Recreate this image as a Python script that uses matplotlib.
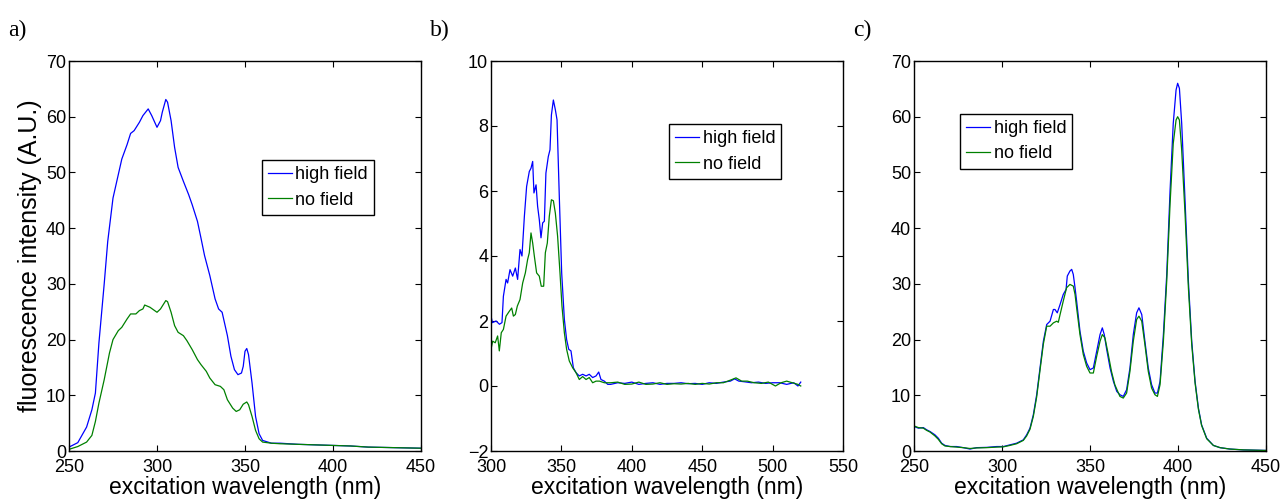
import matplotlib
matplotlib.use("Agg")
import matplotlib.pyplot as plt

plt.rcParams['font.family'] = ['Liberation Sans', 'DejaVu Sans']

# ---- panel a ----
a_high_x = [250, 255, 260, 263, 265, 267, 270, 272, 275, 278, 280, 283, 285, 287, 290, 292, 295, 297,
            300, 302, 303, 305, 306, 308, 310, 312, 315, 318, 320, 323, 325, 327, 330, 333, 335, 337,
            340, 342, 344, 346, 348, 349, 350, 351, 352, 354, 356, 358, 360, 365, 370, 380, 390, 400,
            410, 420, 435, 450]
a_high_y = [0.7, 1.5, 4.3, 7.4, 10.4, 19.4, 30.0, 37.6, 45.4, 49.6, 52.4, 55.0, 57.0, 57.5, 59.0, 60.2,
            61.4, 60.2, 58.1, 59.3, 60.8, 63.1, 62.6, 59.3, 54.5, 50.9, 48.4, 46.0, 44.2, 41.2, 38.2,
            35.1, 31.5, 27.3, 25.5, 24.9, 20.7, 17.0, 14.6, 13.7, 14.0, 15.2, 17.9, 18.4, 17.3, 12.2,
            6.2, 3.1, 1.9, 1.4, 1.4, 1.2, 1.1, 1.0, 0.9, 0.7, 0.6, 0.5]
a_none_x = [250, 255, 260, 263, 265, 267, 270, 273, 275, 278, 280, 283, 285, 288, 290, 292, 293, 296,
            300, 302, 305, 306, 308, 310, 312, 315, 317, 320, 323, 325, 328, 330, 333, 336, 338, 340,
            343, 345, 347, 349, 351, 352, 354, 356, 358, 360, 365, 370, 380, 390, 400, 410, 420, 435, 450]
a_none_y = [0.3, 0.8, 1.6, 2.8, 5.3, 8.6, 12.8, 17.6, 20.0, 21.6, 22.2, 23.7, 24.6, 24.6, 25.2, 25.5,
            26.2, 25.8, 24.9, 25.5, 27.0, 26.8, 24.9, 22.5, 21.3, 20.7, 19.8, 18.2, 16.4, 15.5, 14.3,
            13.1, 11.9, 11.6, 11.0, 9.2, 7.7, 7.1, 7.4, 8.4, 8.8, 8.3, 6.2, 3.7, 2.2, 1.6, 1.4, 1.3,
            1.2, 1.1, 1.0, 0.9, 0.7, 0.6, 0.5]

# ---- panel b ----
b_high_x = [300, 301, 303.6, 306, 307.8, 308.8, 310.7, 311.8, 313.5, 315.4, 317.3, 318.9, 320.6, 322,
            323.7, 325.3, 327.2, 328.4, 329.6, 330.5, 332, 333.1, 334.3, 335.5, 336.7, 337.9, 339,
            340.7, 341.9, 342.9, 344.3, 345.7, 346.9, 348.5, 350.2, 352.1, 353.7, 355.2, 356.8, 358.5,
            360.4, 362.7, 365.1, 367.5, 369.8, 372.2, 374.6, 376.5, 378.1, 380.5, 382.9, 385, 390, 395,
            400, 405, 410, 415, 420, 425, 430, 435, 440, 445, 450, 455, 460, 465, 470, 473, 476, 480,
            485, 490, 495, 500, 505, 510, 515, 518, 520]
b_high_y = [2.15, 1.95, 2.0, 1.9, 1.95, 2.76, 3.28, 3.17, 3.58, 3.38, 3.63, 3.28, 4.2, 4.0, 5.22, 6.14,
            6.6, 6.7, 6.91, 5.94, 6.19, 5.53, 5.12, 4.56, 5.02, 5.07, 6.55, 7.06, 7.27, 8.34, 8.8, 8.5,
            8.19, 5.84, 3.48, 2.05, 1.43, 1.13, 1.08, 0.56, 0.41, 0.31, 0.36, 0.31, 0.36, 0.26, 0.31,
            0.43, 0.2, 0.15, 0.05, 0.05, 0.1, 0.08, 0.12, 0.05, 0.08, 0.1, 0.05, 0.08, 0.08, 0.1, 0.07,
            0.08, 0.05, 0.1, 0.08, 0.12, 0.15, 0.22, 0.15, 0.13, 0.1, 0.12, 0.08, 0.1, 0.1, 0.05, 0.1,
            0.0, 0.12]
b_none_x = [300, 301.2, 303, 304.7, 305.9, 307.3, 308.8, 310.7, 313, 314.7, 315.9, 317.3, 318.7, 320.6,
            322.5, 324.4, 326, 327.2, 328.4, 329.6, 330.8, 332.4, 334.3, 335.7, 337.4, 338.6, 340,
            341.4, 342.9, 344.3, 345.7, 347.3, 349, 350.4, 352.1, 353.7, 355.6, 358, 360.4, 362.7,
            365.1, 367.5, 369.8, 372.2, 374.6, 377, 380.5, 385, 390, 395, 400, 405, 410, 415, 420, 425,
            430, 435, 440, 445, 450, 455, 460, 465, 470, 474, 478, 482, 487, 492, 497, 502, 506, 510,
            514, 518, 520]
b_none_y = [1.13, 1.38, 1.33, 1.54, 1.08, 1.64, 1.74, 2.15, 2.3, 2.4, 2.15, 2.2, 2.46, 2.66, 3.17, 3.48,
            3.89, 4.1, 4.71, 4.4, 3.99, 3.48, 3.38, 3.07, 3.07, 4.1, 4.4, 5.22, 5.73, 5.7, 5.32, 4.61,
            3.48, 2.46, 1.64, 1.13, 0.77, 0.56, 0.41, 0.2, 0.29, 0.2, 0.26, 0.1, 0.15, 0.15, 0.1, 0.1,
            0.12, 0.05, 0.06, 0.12, 0.05, 0.06, 0.1, 0.05, 0.07, 0.06, 0.08, 0.05, 0.08, 0.06, 0.1, 0.1,
            0.18, 0.25, 0.15, 0.15, 0.1, 0.08, 0.12, 0.0, 0.1, 0.15, 0.1, 0.05, 0.0]

# ---- panel c ----
c_high_x = [250, 252.5, 255.3, 257.2, 259.1, 261.9, 263.8, 265.7, 267.6, 270.5, 274.2, 278, 281.8,
            285.6, 291.3, 297, 300.8, 304.5, 308.3, 312.1, 314, 315.9, 317.8, 319.7, 321.6, 323.5,
            325.4, 327.3, 329.2, 330.1, 331.4, 333, 334.8, 336.4, 337.1, 338.6, 339.6, 340.5, 341.5,
            342.4, 344.3, 346.2, 348.1, 350, 351.9, 353.8, 355.7, 357, 358.1, 359.5, 361.4, 363.3,
            365.2, 367, 368.9, 370.8, 372.7, 374.6, 376.5, 377.8, 379.4, 381.2, 383.1, 385, 386.9,
            388.3, 389.8, 391.7, 393.6, 395.5, 397.3, 398.9, 399.8, 400.8, 402.1, 404, 405.9, 407.8,
            409.7, 411.6, 413.4, 416.3, 420.1, 423.9, 429.5, 437.1, 450]
c_high_y = [4.4, 4.1, 4.2, 3.8, 3.5, 2.9, 2.3, 1.4, 1.0, 0.8, 0.8, 0.6, 0.35, 0.6, 0.65, 0.8, 0.8, 1.1,
            1.4, 2.0, 2.9, 4.1, 6.5, 10.1, 14.9, 19.7, 22.7, 23.3, 25.4, 25.4, 24.8, 26.3, 28.1, 29.0,
            31.4, 32.3, 32.6, 31.7, 29.3, 26.9, 21.5, 17.9, 15.8, 14.6, 14.9, 17.9, 20.9, 22.1, 20.9,
            18.2, 14.9, 12.5, 10.7, 10.1, 9.8, 11.0, 14.9, 20.9, 24.8, 25.7, 24.5, 19.7, 14.9, 11.9,
            10.4, 10.4, 12.5, 20.9, 31.7, 46.8, 58.8, 64.8, 66.0, 65.1, 58.8, 45.0, 30.5, 19.7, 12.5,
            7.7, 4.7, 2.3, 1.0, 0.6, 0.35, 0.2, 0.1]
c_none_x = [250, 252.5, 255.3, 257.2, 259.1, 261.9, 263.8, 265.7, 267.6, 270.5, 274.2, 278, 281.8,
            285.6, 291.3, 297, 300.8, 304.5, 308.3, 312.1, 314, 315.9, 317.8, 319.7, 321.6, 323.5,
            325.4, 327.3, 329.2, 331.1, 332, 333, 334.8, 336.7, 338.6, 340.5, 341.5, 342.4, 344.3,
            346.2, 348.1, 350, 351.9, 353.8, 355.7, 357, 358.5, 360.4, 362.2, 364.1, 367, 368.9, 370.8,
            372.7, 374.6, 376.5, 377.8, 379.4, 381.2, 383.1, 385, 386.9, 388.3, 389.8, 391.7, 393.6,
            395.5, 397.3, 398.9, 399.8, 400.8, 402.1, 404, 405.9, 407.8, 409.7, 411.6, 413.4, 416.3,
            420.1, 423.9, 429.5, 437.1, 450]
c_none_y = [4.5, 4.2, 4.1, 3.7, 3.4, 2.7, 2.1, 1.3, 0.9, 0.8, 0.7, 0.6, 0.45, 0.55, 0.6, 0.7, 0.75,
            1.0, 1.3, 1.9, 2.7, 3.9, 6.2, 9.7, 14.5, 19.2, 22.4, 22.4, 23.0, 23.3, 23.1, 24.5, 26.9,
            29.3, 29.9, 29.6, 28.1, 25.7, 20.9, 17.3, 15.2, 14.0, 14.0, 17.0, 19.7, 20.9, 20.3, 17.3,
            14.3, 11.9, 9.8, 9.5, 10.4, 14.3, 19.7, 23.6, 24.2, 23.3, 19.1, 14.3, 11.3, 10.1, 9.8, 11.9,
            19.7, 30.5, 44.4, 55.2, 59.4, 60.0, 59.4, 54.0, 42.6, 29.3, 19.1, 12.2, 7.5, 4.6, 2.2, 1.0,
            0.6, 0.35, 0.2, 0.1]

panels = [
    ("a)", a_high_x, a_high_y, a_none_x, a_none_y, (250, 450), (0, 70), 10, (0.548, 0.746)),
    ("b)", b_high_x, b_high_y, b_none_x, b_none_y, (300, 550), (-2, 10), 2, (0.506, 0.838)),
    ("c)", c_high_x, c_high_y, c_none_x, c_none_y, (250, 450), (0, 70), 10, (0.131, 0.864)),
]
lefts = [69, 491, 914]

fig = plt.figure(figsize=(12.84, 5.04), dpi=100)

for i, (tag, hx, hy, nx, ny, xlim, ylim, ystep, leg_pos) in enumerate(panels):
    ax = fig.add_axes([lefts[i] / 1284, 53 / 504, 352 / 1284, 390 / 504])
    ax.plot(hx, hy, color="#0000FF", lw=0.9, label="high field")
    ax.plot(nx, ny, color="#008000", lw=0.9, label="no field")
    ax.set_xlim(*xlim)
    ax.set_ylim(*ylim)
    ax.set_xticks(range(xlim[0], xlim[1] + 1, 50))
    ax.set_yticks(range(ylim[0], ylim[1] + 1, ystep))
    ax.tick_params(direction="in", top=True, right=True, length=4, width=0.8, labelsize=13)
    ax.tick_params(axis="x", pad=6)
    ax.tick_params(axis="y", pad=2)
    for s in ax.spines.values():
        s.set_linewidth(1.0)
    ax.set_xlabel("excitation wavelength (nm)", fontsize=16.5, labelpad=0)
    if i == 0:
        ax.set_ylabel("fluorescence intensity (A.U.)", fontsize=18, labelpad=3)
    leg = ax.legend(loc="upper left", bbox_to_anchor=leg_pos, borderaxespad=0, fontsize=13,
                    handlelength=1.3, handletextpad=0.2, borderpad=0.35, labelspacing=0.45,
                    fancybox=False, framealpha=1, edgecolor="black")
    leg.get_frame().set_linewidth(1.0)
    fig.text((lefts[i] - 61) / 1284, 1 - 20 / 504, tag, family="Liberation Serif",
             fontsize=17, va="top", ha="left")

fig.savefig("out.png", dpi=100)
